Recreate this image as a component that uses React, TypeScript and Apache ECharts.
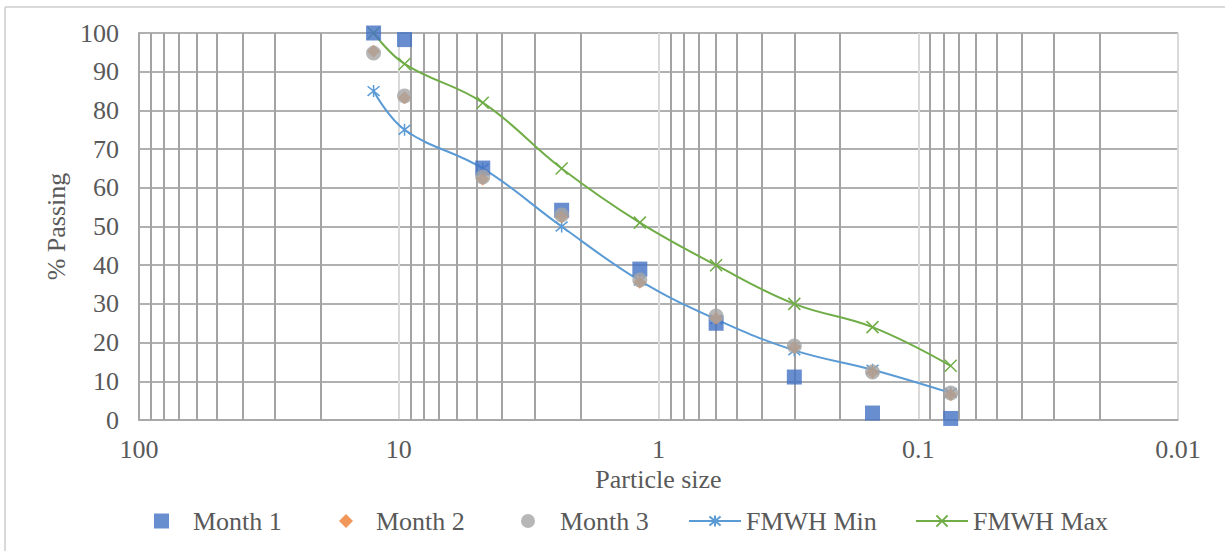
import React, { useEffect, useRef } from "react";
import * as echarts from "echarts";

// Sieve sizes (mm)
const sizes = [12.5, 9.5, 4.75, 2.36, 1.18, 0.6, 0.3, 0.15, 0.075];
const month1 = [100, 98.3, 65.1, 54.2, 39, 25, 11.1, 1.8, 0.4];
const month2 = [95.3, 83.3, 62.3, 52.5, 35.6, 26.3, 18.8, 12.3, 6.5];
const month3 = [94.8, 83.7, 62.8, 53, 36.2, 26.9, 19.1, 12.4, 7];
const fmwhMin = [85, 75, 65, 50, 36, 26, 18, 13, 7];
const fmwhMax = [100, 92, 82, 65, 51, 40, 30, 24, 14];

// Log-axis minor gridlines
const minorGrid = [
  90, 80, 70, 60, 50, 40, 30, 20,
  9, 8, 7, 6, 5, 4, 3, 2,
  0.9, 0.8, 0.7, 0.6, 0.5, 0.4, 0.3, 0.2,
  0.09, 0.08, 0.07, 0.06, 0.05, 0.04, 0.03, 0.02,
];
const xTickLabels = ["100", "10", "1", "0.1", "0.01"];

const FONT = "'Liberation Serif', 'Times New Roman', serif";
const TEXT = "#595959";
const FS = 26;

const ASTERISK = "path://M1,1L9,9M9,1L1,9M5,0L5,10";
const CROSS = "path://M0,0L10,10M10,0L0,10";
const SQUARE_ICON = "path://M0,0L10,0L10,10L0,10Z";
const DIAMOND_ICON = "path://M5,0L10,5L5,10L0,5Z";
const CIRCLE_ICON = "path://M5,0A5,5,0,1,1,5,10A5,5,0,1,1,5,0Z";

const pair = (ys: number[]) => sizes.map((x, i) => [x, ys[i]]);

const legendItem = (
  name: string,
  left: number,
  w: number,
  h: number,
  padLeft: number,
  icon?: string
) => ({
  top: 508,
  left,
  padding: 0,
  itemWidth: w,
  itemHeight: h,
  symbolKeepAspect: true,
  textStyle: {
    fontFamily: FONT,
    fontSize: FS,
    color: TEXT,
    padding: [0, 0, 0, padLeft],
  },
  data: [icon ? { name, icon } : { name }],
});

export default function App() {
  const ref = useRef<HTMLDivElement>(null);
  useEffect(() => {
    if (!ref.current) return;
    const chart = echarts.init(ref.current, undefined, { renderer: "svg" });
    chart.setOption({
      animation: false,
      backgroundColor: "#ffffff",
      textStyle: { fontFamily: FONT, color: TEXT },
      graphic: [
        {
          type: "line",
          shape: { x1: 5, y1: 7, x2: 1225, y2: 7 },
          style: { stroke: "#d9d9d9", lineWidth: 2 },
          silent: true,
        },
        {
          type: "line",
          shape: { x1: 5, y1: 7, x2: 5, y2: 551 },
          style: { stroke: "#d9d9d9", lineWidth: 2 },
          silent: true,
        },
      ],
      grid: { left: 139, right: 47, top: 33, bottom: 131, containLabel: false },
      legend: [
        legendItem("Month 1", 154, 15, 15, 19, SQUARE_ICON),
        legendItem("Month 2", 339, 14, 14, 18, DIAMOND_ICON),
        legendItem("Month 3", 521, 14, 14, 20, CIRCLE_ICON),
        legendItem("FMWH Min", 688, 52, 14, 0),
        legendItem("FMWH Max", 915, 52, 14, 0),
      ],
      xAxis: {
        type: "log",
        logBase: 10,
        min: 0.01,
        max: 100,
        inverse: true,
        name: "Particle size",
        nameLocation: "middle",
        nameGap: 45,
        nameTextStyle: { fontFamily: FONT, fontSize: FS, color: TEXT },
        axisLine: { show: true, lineStyle: { color: "#a6a6a6", width: 1.5 } },
        axisTick: { show: false },
        axisLabel: {
          margin: 16,
          fontFamily: FONT,
          fontSize: FS,
          color: TEXT,
          formatter: (v: number) => {
            const f = xTickLabels.find((t) => Math.abs(Math.log10(Number(t)) - Math.log10(v)) < 1e-6);
            return f ?? String(v);
          },
        },
        splitLine: { show: true, lineStyle: { color: "#d9d9d9", width: 2 } },
      },
      yAxis: {
        type: "value",
        min: 0,
        max: 100,
        interval: 10,
        name: "% Passing",
        nameLocation: "middle",
        nameGap: 70,
        nameTextStyle: { fontFamily: FONT, fontSize: FS, color: TEXT },
        axisLine: { show: true, lineStyle: { color: "#a6a6a6", width: 2 } },
        axisTick: { show: false },
        axisLabel: { margin: 20, fontFamily: FONT, fontSize: FS, color: TEXT },
        splitLine: { show: true, lineStyle: { color: "#b0b0b0", width: 1.8 } },
      },
      series: [
        {
          name: "Month 1",
          type: "scatter",
          symbol: "rect",
          symbolSize: 15,
          z: 3,
          itemStyle: { color: "#4472c4" },
          data: pair(month1),
          markLine: {
            silent: true,
            z: 1,
            symbol: "none",
            label: { show: false },
            lineStyle: { color: "#a3a3a3", width: 2, type: "solid" },
            data: minorGrid.map((v) => ({ xAxis: v })),
          },
        },
        {
          name: "Month 2",
          type: "scatter",
          symbol: "diamond",
          symbolSize: 13,
          z: 3,
          itemStyle: { color: "#ed7d31" },
          data: pair(month2),
        },
        {
          name: "Month 3",
          type: "scatter",
          symbol: "circle",
          symbolSize: 15,
          z: 3,
          itemStyle: { color: "#a5a5a5" },
          data: pair(month3),
        },
        {
          name: "FMWH Min",
          type: "line",
          smooth: 0.4,
          symbol: ASTERISK,
          symbolSize: 12,
          z: 2,
          lineStyle: { color: "#5b9bd5", width: 2 },
          itemStyle: { color: "#5b9bd5", borderColor: "#5b9bd5", borderWidth: 1.5 },
          data: pair(fmwhMin),
        },
        {
          name: "FMWH Max",
          type: "line",
          smooth: 0.4,
          symbol: CROSS,
          symbolSize: 12,
          z: 2,
          lineStyle: { color: "#70ad47", width: 2 },
          itemStyle: { color: "#70ad47", borderColor: "#70ad47", borderWidth: 1.5 },
          data: pair(fmwhMax),
        },
      ],
    });
    return () => chart.dispose();
  }, []);
  return (
    <div
      ref={ref}
      style={{ position: "fixed", left: 0, top: 0, width: 1225, height: 551 }}
    />
  );
}
